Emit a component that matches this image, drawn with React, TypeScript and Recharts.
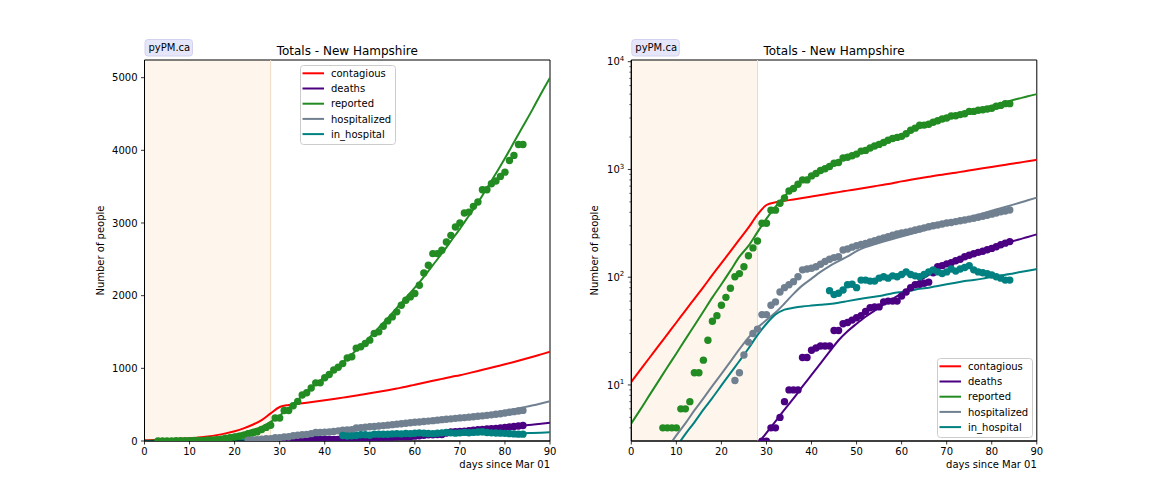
import React from "react"
import {
  ComposedChart,
  Line,
  Scatter,
  XAxis,
  YAxis,
  ReferenceArea,
  ReferenceLine,
  Legend,
} from "recharts"

const FONT = "'DejaVu Sans', Verdana, sans-serif"

// model curves, sampled every 2 days
const modelDays = [
  0, 2, 4, 6, 8, 10, 12, 14, 16, 18, 20, 22, 24, 26, 28, 30, 32, 34, 36, 38, 40, 42, 44, 46, 48, 50, 52, 54, 56,
  58, 60, 62, 64, 66, 68, 70, 72, 74, 76, 78, 80, 82, 84, 86, 88, 90,
]
const contagiousModel = [
  10.7, 13.8, 17.8, 22.9, 29.5, 38, 49, 63, 81, 105, 135, 174, 224, 288, 380, 468, 496, 511, 527, 543, 560, 578,
  597, 616, 636, 656, 677, 699, 722, 746, 775, 802, 828, 855, 882, 906, 934, 963, 994, 1025, 1056, 1088, 1122,
  1156, 1192, 1228,
]
const deathsModel = [
  0.08, 0.1, 0.13, 0.17, 0.22, 0.28, 0.36, 0.46, 0.6, 0.78, 1.0, 1.3, 1.7, 2.2, 2.8, 3.6, 4.6, 5.9, 7.5, 9.7, 12.4,
  15.9, 20.4, 26, 31.5, 37, 43, 49, 56, 63, 71, 81, 93, 105, 120, 133, 145, 156, 167, 178, 189, 200, 212, 224, 236,
  250,
]
const reportedModel = [
  4.4, 5.9, 8.0, 10.8, 14.6, 19.6, 26.5, 35.6, 48, 65, 86, 115, 155, 195, 262, 350, 450, 565, 680, 785, 880, 980,
  1080, 1190, 1310, 1430, 1560, 1690, 1830, 1970, 2110, 2260, 2420, 2580, 2750, 2920, 3100, 3280, 3480, 3680, 3890,
  4110, 4330, 4550, 4780, 5000,
]
const hospitalizedModel = [
  0.92, 1.2, 1.56, 2.0, 2.6, 3.4, 4.4, 5.8, 7.5, 9.8, 12.7, 16.5, 21.5, 27.5, 34, 40, 47, 57, 70, 84, 97, 112, 127,
  141, 156, 175, 190, 202, 214, 226, 238, 251, 265, 280, 296, 313, 331, 350, 370, 391, 414, 437, 462, 488, 517, 548,
]
const inHospitalModel = [
  0.72, 0.93, 1.21, 1.58, 2.05, 2.67, 3.5, 4.5, 5.9, 7.6, 9.9, 12.9, 16.7, 21.8, 29, 37, 45, 50, 52, 53.5, 54.5,
  55.5, 56.5, 58, 60, 62, 64, 66, 68, 71, 73, 75, 78, 80, 83, 86, 89, 92, 94, 97, 101, 104, 107, 111, 115, 119,
]

// observed totals, one value per day starting at the given day
const reportedStart = 3
const reportedData = [
  1, 1, 2, 2, 4, 4, 4, 4, 6, 6, 7, 13, 13, 17, 26, 39, 44, 55, 65, 79, 101, 108, 125, 158, 187, 217, 317, 317, 419,
  419, 486, 545, 632, 665, 730, 800, 800, 871, 916, 977, 1015, 1065, 1143, 1159, 1278, 1296, 1342, 1388, 1480, 1502,
  1580, 1653, 1708, 1777, 1869, 1937, 1983, 2029, 2143, 2313, 2418, 2579, 2579, 2624, 2738, 2830, 2944, 3000, 3137,
  3150, 3229, 3288, 3458, 3458, 3541, 3577, 3641, 3700, 3861, 3930, 4081, 4081,
]
const hospitalizedStart = 23
const hospitalizedData = [
  11, 13, 19, 25, 30, 33, 45, 45, 55, 59, 73, 80, 85, 91, 101, 117, 119, 121, 125, 132, 140, 147, 152, 155, 179,
  183, 190, 196, 201, 206, 212, 218, 225, 232, 238, 245, 252, 258, 262, 268, 274, 280, 287, 294, 300, 305, 312, 318,
  322, 328, 334, 340, 346, 353, 360, 368, 376, 385, 395, 404, 412, 421,
]
const deathsStart = 29
const deathsData = [
  3, 3, 4, 4, 5, 7, 9, 9, 9, 18, 18, 21, 22, 23, 23, 23, 32, 32, 37, 38, 40, 42, 44, 48, 52, 53, 53, 59, 60, 60, 60,
  67, 73, 80, 85, 86, 88, 90, 110, 125, 128, 133, 136, 142, 147, 155, 160, 165, 170, 174, 180, 185, 192, 200, 207,
  214,
]
const inHospitalStart = 44
const inHospitalData = [
  75, 69, 71, 76, 85, 86, 80, 94, 94, 92, 92, 98, 101, 98, 103, 101, 106, 112, 106, 103, 101, 106, 112, 117, 112,
  108, 112, 119, 114, 119, 123, 128, 117, 112, 110, 108, 105, 101, 98, 94, 94,
]

const xTicks = [0, 10, 20, 30, 40, 50, 60, 70, 80, 90]
const linearTicks = [0, 1000, 2000, 3000, 4000, 5000]
const logTicks = [
  4, 5, 6, 7, 8, 9, 10, 20, 30, 40, 50, 60, 70, 80, 90, 100, 200, 300, 400, 500, 600, 700, 800, 900, 1000, 2000,
  3000, 4000, 5000, 6000, 7000, 8000, 9000, 10000,
]

const series = [
  { key: "contagious", color: "#ff0000", model: contagiousModel, start: 0, obs: [] as number[] },
  { key: "deaths", color: "#4b0082", model: deathsModel, start: deathsStart, obs: deathsData },
  { key: "reported", color: "#228b22", model: reportedModel, start: reportedStart, obs: reportedData },
  { key: "hospitalized", color: "#708090", model: hospitalizedModel, start: hospitalizedStart, obs: hospitalizedData },
  { key: "in_hospital", color: "#008080", model: inHospitalModel, start: inHospitalStart, obs: inHospitalData },
]

const modelRows = modelDays.map((day, i) => {
  const row: Record<string, number> = { day }
  series.forEach((s) => (row[s.key] = s.model[i]))
  return row
})

function XTick({ x, y, payload }: any) {
  return (
    <g>
      <line x1={x} x2={x} y1={y} y2={y + 3.5} stroke="#000" strokeWidth={0.8} />
      <text x={x} y={y + 14} textAnchor="middle" fontSize={10} fontFamily={FONT} fill="#000">
        {payload.value}
      </text>
    </g>
  )
}

function LinTick({ x, y, payload }: any) {
  return (
    <g>
      <line x1={x - 3.5} x2={x} y1={y} y2={y} stroke="#000" strokeWidth={0.8} />
      <text x={x - 7} y={y + 3.6} textAnchor="end" fontSize={10} fontFamily={FONT} fill="#000">
        {payload.value}
      </text>
    </g>
  )
}

function LogTick({ x, y, payload }: any) {
  const exp = Math.log10(payload.value)
  const major = Math.abs(exp - Math.round(exp)) < 1e-6
  if (!major) {
    return <line x1={x - 2} x2={x} y1={y} y2={y} stroke="#000" strokeWidth={0.6} />
  }
  return (
    <g>
      <line x1={x - 3.5} x2={x} y1={y} y2={y} stroke="#000" strokeWidth={0.8} />
      <text x={x - 7} y={y + 3.6} textAnchor="end" fontSize={10} fontFamily={FONT} fill="#000">
        10
        <tspan dy={-4.5} fontSize={7}>
          {Math.round(exp)}
        </tspan>
      </text>
    </g>
  )
}

function LegendBox() {
  return (
    <svg width={96} height={80} style={{ display: "block" }}>
      <rect x={0.5} y={0.5} width={95} height={79} rx={3} fill="#fff" fillOpacity={0.8} stroke="#cccccc" />
      {series.map((s, i) => (
        <g key={s.key}>
          <line x1={2.5} x2={24} y1={8.3 + i * 15.2} y2={8.3 + i * 15.2} stroke={s.color} strokeWidth={2} />
          <text x={31} y={11.9 + i * 15.2} fontSize={10} fontFamily={FONT} fill="#000">
            {s.key}
          </text>
        </g>
      ))}
    </svg>
  )
}

interface PanelProps {
  log: boolean
  left: number
}

function Panel({ log, left }: PanelProps) {
  const plotLeft = log ? 55.3 : 144.5
  const plotRight = log ? 460.8 : 550
  const yWidth = log ? 50 : 60
  const yDomain = log ? [3.02, 10370] : [0, 5243]
  const margin = { top: 60, right: 576 - plotRight, bottom: 33, left: plotLeft - yWidth }
  const legendPos = log ? { left: 360.7, top: 357.7 } : { left: 300, top: 65 }
  const mid = (plotLeft + plotRight) / 2

  return (
    <div style={{ position: "absolute", left, top: 0, width: 576, height: 504 }}>
      <ComposedChart width={576} height={504} data={modelRows} margin={margin}>
        <XAxis
          type="number"
          dataKey="day"
          domain={[0, 90]}
          ticks={xTicks}
          interval={0}
          allowDataOverflow
          height={30}
          tickSize={0}
          tickMargin={0}
          tickLine={false}
          axisLine={{ stroke: "#000", strokeWidth: 1 }}
          tick={<XTick />}
        />
        <YAxis
          type="number"
          scale={log ? "log" : "linear"}
          domain={yDomain}
          ticks={log ? logTicks : linearTicks}
          interval={0}
          allowDataOverflow
          width={yWidth}
          tickSize={0}
          tickMargin={0}
          tickLine={false}
          axisLine={{ stroke: "#000", strokeWidth: 1 }}
          tick={log ? <LogTick /> : <LinTick />}
        />
        <ReferenceArea x1={0} x2={28} y1={yDomain[0]} y2={yDomain[1]} fill="#fef6ec" fillOpacity={1} stroke="none" />
        <ReferenceLine x={28} stroke="#eedcc4" strokeWidth={1} />
        {series.flatMap((s) => {
          const pts = s.obs
            .map((v, i) => ({ day: s.start + i, value: v }))
            .filter((p) => !log || p.value >= 3)
          return [
            <Line
              key={s.key + "-line"}
              type="monotone"
              dataKey={s.key}
              stroke={s.color}
              strokeWidth={2}
              dot={false}
              isAnimationActive={false}
            />,
            <Scatter
              key={s.key + "-pts"}
              data={pts}
              dataKey="value"
              fill={s.color}
              isAnimationActive={false}
              shape={(p: any) => <circle cx={p.cx} cy={p.cy} r={3.7} fill={s.color} />}
            />,
          ]
        })}
        <ReferenceArea x1={0} x2={90} y1={yDomain[0]} y2={yDomain[1]} fill="none" stroke="#000" strokeWidth={1} />
        <Legend
          layout="vertical"
          align="center"
          verticalAlign="middle"
          wrapperStyle={{ left: legendPos.left, top: legendPos.top, width: 96, height: 80 }}
          content={() => <LegendBox />}
        />
      </ComposedChart>
      <svg width={576} height={504} style={{ position: "absolute", left: 0, top: 0, pointerEvents: "none" }}>
        <rect x={plotLeft + 0.5} y={39.5} width={47.5} height={16.5} rx={3} fill="#e6e6fa" stroke="#d2d2f0" />
        <text x={plotLeft + 4} y={51} fontSize={10} fontFamily={FONT} fill="#000">
          pyPM.ca
        </text>
        <text x={mid} y={55} textAnchor="middle" fontSize={12} fontFamily={FONT} fill="#000">
          Totals - New Hampshire
        </text>
        <text
          x={log ? 22 : 104}
          y={250.5}
          transform={`rotate(-90 ${log ? 22 : 104} 250.5)`}
          textAnchor="middle"
          fontSize={10}
          fontFamily={FONT}
          fill="#000"
        >
          Number of people
        </text>
        <text x={plotRight} y={468} textAnchor="end" fontSize={10} fontFamily={FONT} fill="#000">
          days since Mar 01
        </text>
      </svg>
    </div>
  )
}

export default function App() {
  return (
    <div style={{ position: "absolute", left: 0, top: 0, width: 1152, height: 504, background: "#fff" }}>
      <Panel log={false} left={0} />
      <Panel log left={576} />
    </div>
  )
}
